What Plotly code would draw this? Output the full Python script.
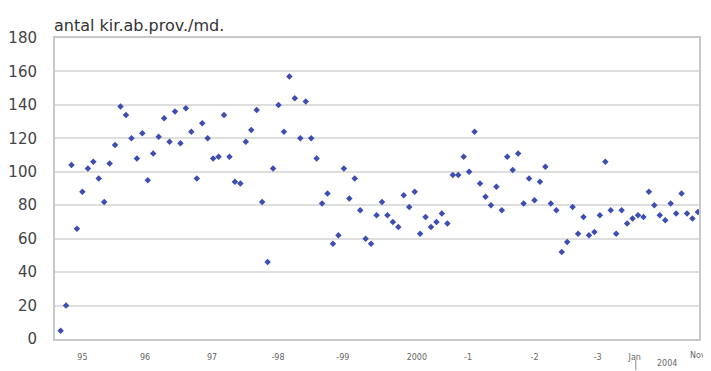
import plotly.graph_objects as go

# Monthly values (antal kir.ab.prov./md.)
values = [5, 20, 104, 66, 88, 102, 106, 96, 82, 105,
          116, 139, 134, 120, 108, 123, 95, 111, 121, 132,
          118, 136, 117, 138, 124, 96, 129, 120, 108, 109,
          134, 109, 94, 93, 118, 125, 137, 82, 46, 102,
          140, 124, 157, 144, 120, 142, 120, 108, 81, 87,
          57, 62, 102, 84, 96, 77, 60, 57, 74, 82,
          74, 70, 67, 86, 79, 88, 63, 73, 67, 70,
          75, 69, 98, 98, 109, 100, 124, 93, 85, 80,
          91, 77, 109, 101, 111, 81, 96, 83, 94, 103,
          81, 77, 52, 58, 79, 63, 73, 62, 64, 74,
          106, 77, 63, 77, 69, 72, 74, 73, 88, 80,
          74, 71, 81, 75, 87, 75, 72, 76]
month_index = list(range(len(values)))

# x-axis labels and their positions (month index)
tick_positions = [4.0, 15.5, 27.8, 39.9, 51.8, 65.4, 74.8, 87.0, 98.6, 105.4]
tick_labels = ["95", "96", "97", "-98", "-99", "2000", "-1", "-2", "-3", "Jan"]
last_label = "Nov"
year_note = "2004"
year_note_pos = 111.3
jan_marker_pos = 105.6

y_ticks = [0, 20, 40, 60, 80, 100, 120, 140, 160, 180]

fig = go.Figure()
fig.add_trace(go.Scatter(
    x=month_index, y=values, mode="markers",
    marker=dict(symbol="diamond", size=5, color="#3d4db0"),
    showlegend=False, hoverinfo="y",
))

# the page body has an 8px margin, so the figure is sized/offset to compensate
fig.update_layout(
    width=703, height=363,
    margin=dict(l=47, r=12, t=30, b=32, autoexpand=False),
    paper_bgcolor="white", plot_bgcolor="white",
    font=dict(family="DejaVu Sans", color="#444"),
    xaxis=dict(
        range=[-1.03, 117.2],
        tickmode="array", tickvals=tick_positions, ticktext=tick_labels,
        tickfont=dict(size=8, color="#666"),
        ticks="outside", ticklen=9, tickcolor="rgba(0,0,0,0)",
        showgrid=False, zeroline=False, automargin=False,
        showline=True, linecolor="#c8c8c8", linewidth=2, mirror=True,
    ),
    yaxis=dict(
        range=[0, 180], tickvals=y_ticks,
        tickfont=dict(size=15, color="#444"),
        showgrid=True, gridcolor="#dedede", gridwidth=2,
        zeroline=False, automargin=False,
        showline=True, linecolor="#c8c8c8", linewidth=2, mirror=True,
        ticks="", ticklabelstandoff=13,
    ),
    annotations=[
        dict(text="antal kir.ab.prov./md.", xref="paper", yref="paper",
             x=-0.005, y=1.043, xanchor="left", yanchor="middle",
             showarrow=False, font=dict(size=16, color="#333")),
        dict(text=last_label, xref="paper", yref="paper",
             x=1.014, y=-0.056, xanchor="right", yanchor="middle",
             showarrow=False, font=dict(size=8, color="#666")),
        dict(text=year_note, xref="x", yref="paper",
             x=year_note_pos, y=-0.08, xanchor="center", yanchor="middle",
             showarrow=False, font=dict(size=8, color="#666")),
    ],
    shapes=[
        dict(type="line", xref="x", yref="paper",
             x0=jan_marker_pos, x1=jan_marker_pos, y0=-0.07, y1=-0.103,
             line=dict(color="#888", width=1)),
    ],
)

fig.write_html("out.html")
